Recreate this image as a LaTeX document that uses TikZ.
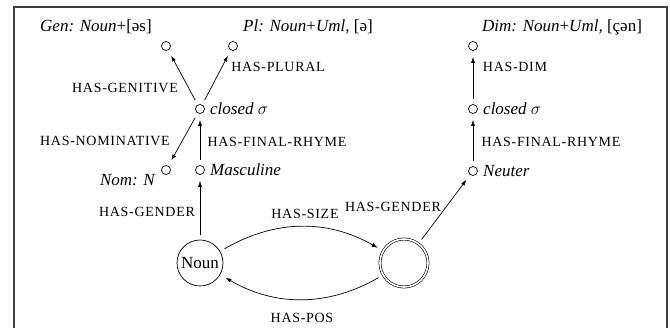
\documentclass[tikz,border=0pt]{standalone}
\usepackage{fontspec}
\setmainfont{Liberation Serif}
\newfontfamily\relfont{Liberation Serif}[LetterSpace=5]
\usetikzlibrary{arrows.meta}
% upright pieces inside italic value labels
\newcommand{\up}[1]{{\upshape #1}}

\begin{document}
\begin{tikzpicture}[x=1pt,y=-1pt,
  state/.style={circle,draw,inner sep=0pt,minimum size=9pt,line width=0.7pt},
  bigstate/.style={circle,draw,inner sep=0pt,minimum size=46pt,line width=0.7pt,
    font=\fontsize{17}{20}\selectfont},
  final/.style={circle,draw,inner sep=0pt,minimum size=48pt,line width=0.6pt,
    double,double distance=1.6pt},
  link/.style={-{Latex[length=6pt,width=4pt]},line width=0.7pt,
    shorten <=5pt,shorten >=6pt},
  rel/.style={font=\relfont\fontsize{14}{16}\selectfont,inner sep=0pt},
  val/.style={font=\itshape\fontsize{17}{20}\selectfont,inner sep=0pt}
]
\useasboundingbox (0,0) rectangle (670,328);
% frame, open at the bottom
\draw[line width=1.3pt,black!75] (14,340) -- (14,7) -- (667,7) -- (667,340);

% states
\node[bigstate] (noun) at (200,263) {Noun};
\node[final]    (acc)  at (404,263) {};
\node[state] (masc) at (200,170) {};
\node[state] (nom)  at (166,170) {};
\node[state] (csl)  at (200,109) {};
\node[state] (gen)  at (166,46) {};
\node[state] (pl)   at (233,46) {};
\node[state] (neut) at (473,171) {};
\node[state] (csr)  at (473,109) {};
\node[state] (dim)  at (473,46) {};

% state values
\node[val,anchor=base west] (tmasc) at (210,176) {Masculine};
\node[val,anchor=base west] (tcsl)  at (210,115) {closed $\sigma$};
\node[val,anchor=base east] (tnom)  at (155,186) {Nom: N};
\node[val,anchor=base west] (tgen)  at (40,32) {Gen: Noun\up{+[əs]}};
\node[val,anchor=base west] (tpl)   at (243,32) {Pl: Noun\up{+}Uml, \up{[ə]}};
\node[val,anchor=base west] (tneut) at (483,177) {Neuter};
\node[val,anchor=base west] (tcsr)  at (483,115) {closed $\sigma$};
\node[val,anchor=base west] (tdim)  at (482,32) {Dim: Noun\up{+}Uml, \up{[çən]}};

% transitions
\draw[link] (noun) -- (masc);
\draw[link] (masc) -- (csl);
\draw[link] (csl) -- (nom);
\draw[link] (csl) -- (gen);
\draw[link] (csl) -- (pl);
\draw[link] (acc) -- (neut);
\draw[link] (neut) -- (csr);
\draw[link] (csr) -- (dim);
\draw[link] (noun) to[bend left=30] (acc);
\draw[link] (acc) to[bend left=30] (noun);

% transition labels
\node[rel] (lgender)  at (147,212) {HAS-GENDER};
\node[rel] (lrhyme)   at (277,142) {HAS-FINAL-RHYME};
\node[rel] (lnom)     at (105,141) {HAS-NOMINATIVE};
\node[rel] (lgen)     at (125,88)  {HAS-GENITIVE};
\node[rel] (lpl)      at (278,67)  {HAS-PLURAL};
\node[rel] (lsize)    at (305,214) {HAS-SIZE};
\node[rel] (lpos)     at (302,318) {HAS-POS};
\node[rel] (lgenderr) at (393,207) {HAS-GENDER};
\node[rel] (lrhymer)  at (551,142) {HAS-FINAL-RHYME};
\node[rel] (ldim)     at (515,67)  {HAS-DIM};
\end{tikzpicture}
\end{document}
